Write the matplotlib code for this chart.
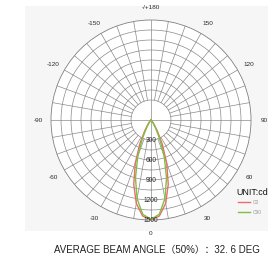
import numpy as np
import matplotlib
matplotlib.use("Agg")
import matplotlib.pyplot as plt
from matplotlib.patches import Rectangle

plt.rcParams['font.family'] = ['Liberation Sans', 'Noto Sans CJK SC', 'DejaVu Sans']

# Light distribution data (candela), symmetric around 0 deg
angles = [0, 5, 10, 15, 20, 25, 30, 35, 40, 45, 50, 60, 70, 80, 90]
c0_cd = [1500, 1445, 1270, 1000, 690, 400, 190, 80, 30, 12, 5, 0, 0, 0, 0]
c90_cd = [1490, 1420, 1200, 900, 580, 300, 130, 50, 18, 6, 2, 0, 0, 0, 0]
plane_labels = ["C0", "C90"]
plane_colors = ["#ec6a6a", "#7cc242"]

ring_values = [300, 600, 900, 1200, 1500]
angle_ticks = [0, 30, 60, 90, 120, 150, 180, -150, -120, -90, -60, -30]
angle_labels = ["0", "30", "60", "90", "120", "150", "-/+180",
                "-150", "-120", "-90", "-60", "-30"]
caption = "AVERAGE BEAM ANGLE（50%）：32. 6 DEG"
r_max = 1500

fig = plt.figure(figsize=(2.68, 2.55), dpi=100)
W, H = 268, 255

# light grey panel behind the diagram
fig.add_artist(Rectangle((25 / W, 1 - 232 / H), 1.0, (232 - 7) / H,
                         transform=fig.transFigure, facecolor="#f6f6f6",
                         edgecolor="none", zorder=0))

cx, cy, rad = 151, 121, 100
ax = fig.add_axes([(cx - rad) / W, 1 - (cy + rad) / H, 2 * rad / W, 2 * rad / H],
                  projection="polar")
ax.set_theta_zero_location("S")
ax.set_theta_direction(1)
ax.set_ylim(0, r_max)
ax.set_facecolor("white")
ax.grid(False)
ax.set_xticks([])
ax.set_yticks([])
ax.spines["polar"].set_color("#808080")
ax.spines["polar"].set_linewidth(0.6)

# grid: circles every 150 cd from 300, spokes every 10 deg
grid_kw = dict(color="#8a8a8a", lw=0.5, zorder=1)
t_full = np.linspace(0, 2 * np.pi, 361)
for r in np.arange(300, r_max, 150):
    ax.plot(t_full, np.full_like(t_full, r), **grid_kw)
for a in range(0, 360, 10):
    r0 = 0 if a % 90 == 0 else 300
    ax.plot([np.radians(a)] * 2, [r0, r_max], **grid_kw)

# curves
full_ang = [-a for a in angles[:0:-1]] + angles
for vals, lab, col in zip([c0_cd, c90_cd], plane_labels, plane_colors):
    full_vals = vals[:0:-1] + vals
    ax.plot(np.radians(full_ang), full_vals, color=col, lw=1.0, label=lab, zorder=3)

# ring value labels along the 0 deg direction
for r in ring_values:
    ax.text(0, r, str(r), ha="center", va="center", fontsize=4.8,
            color="#2a2a2a", zorder=4)

# angle labels around the outside
for a, lab in zip(angle_ticks, angle_labels):
    ax.text(np.radians(a), r_max * 1.13, lab, ha="center", va="center",
            fontsize=4.6, color="#2a2a2a", clip_on=False)

fig.text(236 / W, 1 - 193 / H, "UNIT:cd", fontsize=6.4, color="#111111",
         ha="left", va="center")
leg = ax.legend(loc="upper left", bbox_to_anchor=(236 / W, 1 - 198 / H),
                bbox_transform=fig.transFigure, frameon=False, fontsize=3.5,
                handlelength=2.4, handletextpad=0.6, labelspacing=1.0,
                borderpad=0)
for t in leg.get_texts():
    t.set_color("#999999")

fig.text(157 / W, 1 - 250 / H, caption, fontsize=7.0, color="#222222",
         ha="center", va="center")

fig.savefig("out.png", dpi=100)
